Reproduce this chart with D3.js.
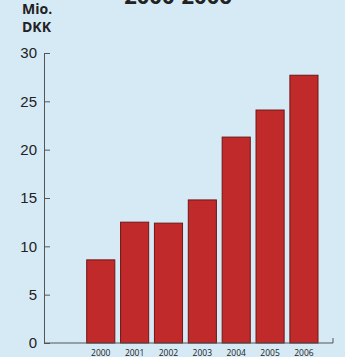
<!DOCTYPE html>
<html>
<head>
<meta charset="utf-8">
<script src="https://cdn.jsdelivr.net/npm/d3@7"></script>
<style>
  html, body { margin: 0; padding: 0; background: #d6eaf6; overflow: hidden; }
  svg { display: block; font-family: "Open Sans", "DejaVu Sans", sans-serif; }
</style>
</head>
<body>
<div class="chart"></div>
<script>
var years = ['2000', '2001', '2002', '2003', '2004', '2005', '2006'];
var values = [8.6, 12.5, 12.4, 14.8, 21.3, 24.1, 27.7];
var yTicks = [0, 5, 10, 15, 20, 25, 30];

var fullWidth = 345;
var fullHeight = 357;

var svg = d3.select('.chart')
  .append('svg')
  .attr('width', fullWidth)
  .attr('height', fullHeight);

svg.append('rect')
  .attr('width', fullWidth)
  .attr('height', fullHeight)
  .attr('fill', '#d6eaf6');

// title, cut off at the top like in the source
svg.append('text')
  .attr('x', 178)
  .attr('y', 4)
  .attr('text-anchor', 'middle')
  .style('font-size', '22px')
  .style('font-weight', 'bold')
  .style('fill', '#222')
  .text('2000-2006');

// unit label
svg.append('text')
  .attr('x', 22)
  .attr('y', 14)
  .style('font-size', '14px')
  .style('font-weight', 'bold')
  .style('fill', '#222')
  .text('Mio.');
svg.append('text')
  .attr('x', 22)
  .attr('y', 32)
  .style('font-size', '14px')
  .style('font-weight', 'bold')
  .style('fill', '#222')
  .text('DKK');

var axisX = 44;

var yScale = d3.scaleLinear()
  .domain([0, 30])
  .range([343, 53]);

var xScale = d3.scaleBand()
  .domain(years)
  .range([86.7, 318])
  .paddingInner(0.17)
  .paddingOuter(0);

// y axis, ticks pointing into the plot
var yAxis = d3.axisRight(yScale)
  .tickValues(yTicks)
  .tickSize(6)
  .tickSizeOuter(0)
  .tickFormat(d3.format('d'));

var gy = svg.append('g')
  .attr('transform', 'translate(' + axisX + ',0)')
  .call(yAxis);
gy.select('.domain').attr('stroke', '#555').attr('stroke-width', 1);
gy.selectAll('.tick line').attr('stroke', '#555');
gy.selectAll('.tick text')
  .attr('x', -7)
  .attr('text-anchor', 'end')
  .style('font-size', '15px')
  .style('fill', '#222');

// bars
svg.selectAll('rect.bar')
  .data(values)
  .enter()
  .append('rect')
  .attr('class', 'bar')
  .attr('x', (d, i) => xScale(years[i]))
  .attr('width', xScale.bandwidth())
  .attr('y', d => yScale(d))
  .attr('height', d => yScale(0) - yScale(d))
  .attr('fill', '#c12a2b')
  .attr('stroke', '#6e1616')
  .attr('stroke-width', 1);

// x axis line with a small tick at the right end
var xEnd = 333;
svg.append('path')
  .attr('d', 'M' + axisX + ',' + yScale(0) + 'H' + xEnd + 'V' + (yScale(0) - 5))
  .attr('fill', 'none')
  .attr('stroke', '#555');

// year labels
svg.selectAll('text.year')
  .data(years)
  .enter()
  .append('text')
  .attr('class', 'year')
  .attr('x', d => xScale(d) + xScale.bandwidth() / 2)
  .attr('y', 356)
  .attr('text-anchor', 'middle')
  .style('font-size', '8.5px')
  .style('fill', '#222')
  .text(d => d);
</script>
</body>
</html>
